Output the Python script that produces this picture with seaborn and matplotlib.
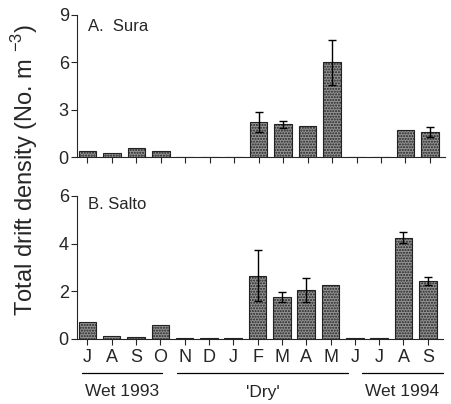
import pandas as pd
import matplotlib
matplotlib.use("Agg")
import matplotlib.pyplot as plt
import seaborn as sns

sns.set_style("ticks")
plt.rcParams["font.family"] = ["Liberation Sans", "DejaVu Sans"]
plt.rcParams["hatch.color"] = "#555555"

# months Jul 1993 - Sep 1994
months = ["J", "A", "S", "O", "N", "D", "J", "F", "M", "A", "M", "J", "J", "A", "S"]
month_ids = ["Jul93", "Aug93", "Sep93", "Oct93", "Nov93", "Dec93", "Jan94", "Feb94",
             "Mar94", "Apr94", "May94", "Jun94", "Jul94", "Aug94", "Sep94"]

# A. Sura
sura_mean = [0.40, 0.27, 0.55, 0.40, 0.0, 0.0, 0.03, 2.20, 2.07, 1.95, 6.00, 0.03, 0.03, 1.73, 1.59]
sura_err = [0, 0, 0, 0, 0, 0, 0, 0.63, 0.22, 0, 1.44, 0, 0, 0, 0.31]

# B. Salto
salto_mean = [0.73, 0.14, 0.08, 0.59, 0.02, 0.02, 0.02, 2.66, 1.76, 2.06, 2.25, 0.03, 0.03, 4.25, 2.44]
salto_err = [0, 0, 0, 0, 0, 0, 0, 1.08, 0.23, 0.49, 0, 0, 0, 0.22, 0.17]

seasons = ["Wet 1993", "'Dry'", "Wet 1994"]

fig = plt.figure(figsize=(4.51, 4.04), dpi=100)
axA = fig.add_axes([0.171, 0.611, 0.816, 0.352])
axB = fig.add_axes([0.171, 0.161, 0.811, 0.354])


def panel(ax, vals, errs, ymax, yticks, title, title_y, show_labels):
    df = pd.DataFrame({"month": month_ids, "val": vals})
    sns.barplot(data=df, x="month", y="val", order=month_ids, color="#939393",
                width=0.72, edgecolor="#222222", linewidth=0.8, errorbar=None,
                saturation=1, ax=ax)
    for p in ax.patches:
        p.set_hatch("......")
    pos = [i for i, e in enumerate(errs) if e > 0]
    ax.errorbar(pos, [vals[i] for i in pos], yerr=[errs[i] for i in pos],
                fmt="none", ecolor="black", elinewidth=1.0, capsize=3, capthick=1.0)
    ax.set_xlim(-0.42, 14.62)
    ax.set_ylim(0, ymax)
    ax.set_yticks(yticks)
    ax.set_xticks(range(len(months)))
    if show_labels:
        ax.set_xticklabels(months, fontsize=13)
    else:
        ax.set_xticklabels([])
    ax.tick_params(axis="y", labelsize=13, length=4, width=0.8, pad=2)
    ax.tick_params(axis="x", length=4, width=0.8, pad=3)
    ax.set_xlabel("")
    ax.set_ylabel("")
    ax.text(0.03, title_y, title, transform=ax.transAxes, fontsize=12, va="center")
    sns.despine(ax=ax)
    for s in ["left", "bottom"]:
        ax.spines[s].set_linewidth(0.8)


panel(axA, sura_mean, sura_err, 9, [0, 3, 6, 9], "A.  Sura", 0.92, False)
panel(axB, salto_mean, salto_err, 6, [0, 2, 4, 6], "B. Salto", 0.94, True)

# season brackets below the month labels
line_y = 1 - 373 / 404
text_y = 1 - 392 / 404
spans = [(82, 162), (177, 348), (362, 443)]
for (x0, x1), lab in zip(spans, seasons):
    fig.add_artist(plt.Line2D([x0 / 451, x1 / 451], [line_y, line_y], color="black", lw=0.9))
    fig.text((x0 + x1) / 2 / 451, text_y, lab, ha="center", va="center", fontsize=12.5)

fig.text(0.055, 0.58, r"Total drift density (No. m $^{\mathregular{-3}}$)", rotation=90,
         ha="center", va="center", fontsize=17)

fig.savefig("out.png", dpi=100)
